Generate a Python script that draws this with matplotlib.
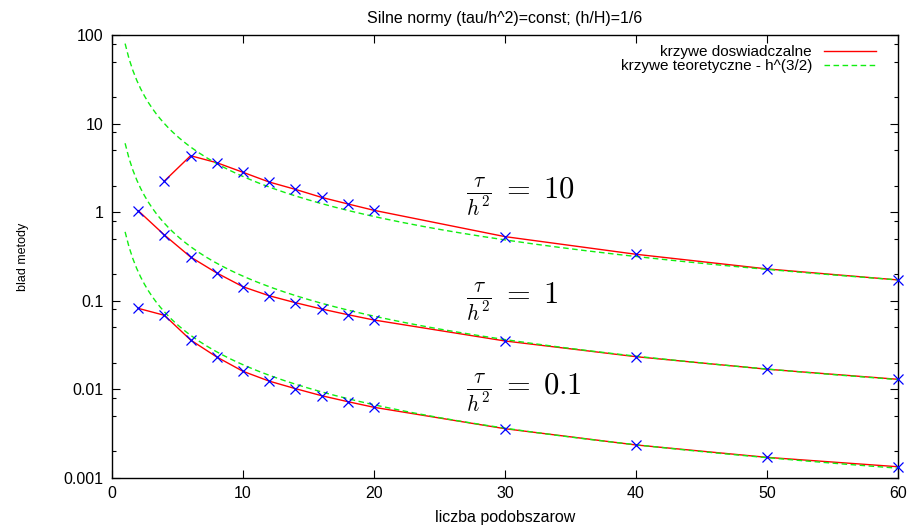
import numpy as np
import matplotlib
matplotlib.use("Agg")
import matplotlib.pyplot as plt
from matplotlib.ticker import FixedLocator, FixedFormatter, NullFormatter

plt.rcParams['font.family'] = ['Liberation Sans', 'DejaVu Sans']
plt.rcParams['mathtext.fontset'] = 'cm'

# measured errors for three ratios tau/h^2
n_hi = [4, 6, 8, 10, 12, 14, 16, 18, 20, 30, 40, 50, 60]
err_hi = [2.25, 4.34, 3.62, 2.82, 2.19, 1.81, 1.47, 1.24, 1.05, 0.53, 0.335, 0.229, 0.172]

n_mid = [2, 4, 6, 8, 10, 12, 14, 16, 18, 20, 30, 40, 50, 60]
err_mid = [1.04, 0.553, 0.312, 0.206, 0.144, 0.114, 0.0952, 0.0808, 0.0697, 0.0607,
           0.0352, 0.0234, 0.0169, 0.0130]

n_lo = [2, 4, 6, 8, 10, 12, 14, 16, 18, 20, 30, 40, 50, 60]
err_lo = [0.0822, 0.0686, 0.0361, 0.0232, 0.0160, 0.0124, 0.0102, 0.00849, 0.00727,
          0.00628, 0.00360, 0.00236, 0.00171, 0.00134]

# coefficients of the theoretical curves C * n^(-3/2)
theory_coef = [80.0, 6.0, 0.6]

ratio_labels = [r'$\frac{\tau}{h^2}\;=\;10$', r'$\frac{\tau}{h^2}\;=\;1$',
                r'$\frac{\tau}{h^2}\;=\;0.1$']
label_y = [1.5, 0.098, 0.0092]

y_ticks = [0.001, 0.01, 0.1, 1, 10, 100]
y_tick_labels = ['0.001', '0.01', '0.1', '1', '10', '100']
x_ticks = [0, 10, 20, 30, 40, 50, 60]

fig = plt.figure(figsize=(9.10, 5.28), dpi=100)
ax = fig.add_axes([112 / 910, 50 / 528, 786 / 910, 443 / 528])

red = '#ff0000'
green = '#11ee11'
blue = '#0000ff'

n_theory = np.linspace(1, 60, 200)
series = [(n_hi, err_hi), (n_mid, err_mid), (n_lo, err_lo)]
for i, ((n, e), c) in enumerate(zip(series, theory_coef)):
    ax.plot(n, e, color=red, lw=1.0,
            label='krzywe doswiadczalne' if i == 0 else None, zorder=2)
    ax.plot(n, e, linestyle='none', marker='x', ms=6.5, mew=0.9, color=blue,
            zorder=4, clip_on=False)
    ax.plot(n_theory, c * n_theory ** -1.5, color=green, lw=1.0,
            linestyle=(0, (4, 2.5)),
            label='krzywe teoretyczne - h^(3/2)' if i == 0 else None, zorder=3)

for txt, yv in zip(ratio_labels, label_y):
    ax.text(27, yv, txt, fontsize=22, ha='left', va='center')

ax.set_yscale('log')
ax.set_xlim(0, 60)
ax.set_ylim(0.001, 100)

ax.yaxis.set_major_locator(FixedLocator(y_ticks))
ax.yaxis.set_major_formatter(FixedFormatter(y_tick_labels))
minor = [m * 10.0 ** k for k in range(-3, 2) for m in (2, 5, 8)]
ax.yaxis.set_minor_locator(FixedLocator(minor))
ax.yaxis.set_minor_formatter(NullFormatter())
ax.xaxis.set_major_locator(FixedLocator(x_ticks))

ax.tick_params(which='both', direction='in', top=True, right=True, labelsize=11.5,
               width=0.8, colors='black')
ax.tick_params(which='major', length=6, pad=6)
ax.tick_params(which='minor', length=3)
for s in ax.spines.values():
    s.set_linewidth(1.0)

ax.set_xlabel('liczba podobszarow', fontsize=11.5, labelpad=6)
ax.set_ylabel('blad metody', fontsize=9)
ax.yaxis.set_label_coords(-0.105, 0.5)
ax.set_title('Silne normy (tau/h^2)=const; (h/H)=1/6', fontsize=11.5, pad=9)

ax.legend(loc='upper right', frameon=False, markerfirst=False, fontsize=11,
          handlelength=3.4, handletextpad=0.8, labelspacing=0.0,
          borderaxespad=0.25, bbox_to_anchor=(0.985, 1.0))

fig.savefig('out.png', dpi=100)
